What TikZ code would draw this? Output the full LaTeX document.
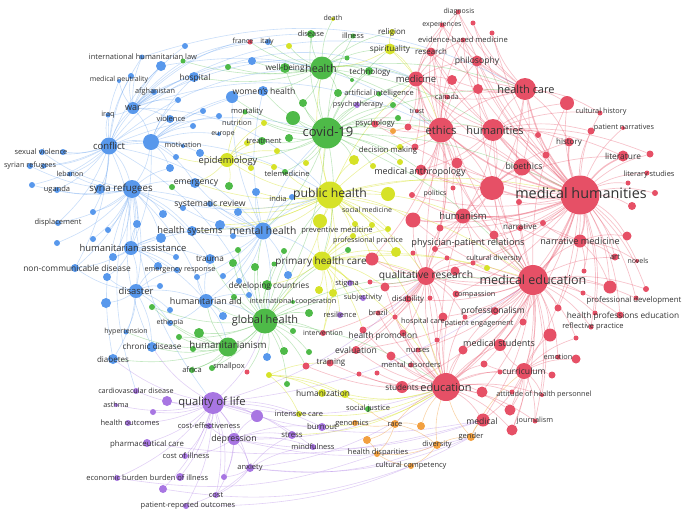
\documentclass[tikz,border=0pt]{standalone}
\usepackage{fontspec}
\setmainfont{Open Sans}
\pgfdeclarelayer{bg}
\pgfsetlayers{bg,main}
\definecolor{vred}{RGB}{230,80,102}
\definecolor{vgreen}{RGB}{78,186,72}
\definecolor{vblue}{RGB}{88,152,236}
\definecolor{vyellow}{RGB}{214,226,40}
\definecolor{vpurple}{RGB}{168,118,226}
\definecolor{vorange}{RGB}{242,160,64}
\definecolor{vtext}{RGB}{50,50,50}
\tikzset{
  kwdot/.style={circle,inner sep=0pt,draw=none},
  kwlbl/.style={inner sep=0pt,text=vtext},
  er/.style={draw=vred,draw opacity=0.34,line width=0.7pt},
  erh/.style={draw=vred,draw opacity=0.4,line width=1.4pt},
  eg/.style={draw=vgreen,draw opacity=0.34,line width=0.6pt},
  eb/.style={draw=vblue,draw opacity=0.32,line width=0.6pt},
  ey/.style={draw=vyellow,draw opacity=0.45,line width=0.6pt},
  ep/.style={draw=vpurple,draw opacity=0.34,line width=0.6pt},
  eo/.style={draw=vorange,draw opacity=0.45,line width=0.6pt},
}
\newcommand\kwn[5]{\node[kwdot,fill=#5,minimum size=#4pt] (#1) at (#2,#3) {};}
\newcommand\kwl[5]{\node[kwlbl,font=\fontsize{#4}{#4}\selectfont] (#1) at (#2,#3) {#5};}
\begin{document}
\begin{tikzpicture}[x=1pt,y=-1pt]
\useasboundingbox (0,0) rectangle (685,515);
% ---------- red nodes
\kwn{diag}{458}{12}{5}{vred}\kwn{exp}{442}{25}{5}{vred}\kwn{r473}{473}{23}{5}{vred}
\kwn{ebm}{463}{40}{5}{vred}\kwn{r492}{492}{33}{5}{vred}\kwn{res}{431}{52}{9}{vred}
\kwn{phil}{477}{61}{11}{vred}\kwn{med}{416}{79}{15}{vred}\kwn{r452}{452}{80}{10}{vred}
\kwn{r478}{478}{89}{10}{vred}\kwn{hc}{525}{89}{22}{vred}\kwn{r567}{567}{103}{14}{vred}
\kwn{can}{447}{97}{5}{vred}\kwn{trust}{417}{111}{4}{vred}\kwn{psych}{375}{124}{7}{vred}
\kwn{r408}{408}{127}{7}{vred}\kwn{eth}{441}{130}{25}{vred}\kwn{hum}{493}{130}{22}{vred}
\kwn{ch}{600}{113}{5}{vred}\kwn{pn}{591}{131}{7}{vred}\kwn{pn2}{623}{128}{4}{vred}
\kwn{r538}{538}{135}{6}{vred}\kwn{hist}{569}{142}{9}{vred}\kwn{r546}{546}{155}{7}{vred}
\kwn{lit}{623}{156}{11}{vred}\kwn{r650}{650}{154}{7}{vred}\kwn{bio}{522}{167}{17}{vred}
\kwn{dm}{415}{147}{7}{vred}\kwn{r457}{457}{163}{11}{vred}\kwn{ma}{421}{170}{11}{vred}
\kwn{ls}{647}{173}{5}{vred}\kwn{r628}{628}{183}{5}{vred}\kwn{rb}{492}{188}{24}{vred}
\kwn{mh}{580}{195}{39}{vred}\kwn{r655}{655}{193}{6}{vred}\kwn{r632}{632}{206}{8}{vred}
\kwn{r519}{519}{202}{6}{vred}\kwn{pol}{412}{195}{6}{vred}\kwn{r453}{453}{188}{5}{vred}
\kwn{r413}{413}{220}{15}{vred}\kwn{hism}{463}{216}{15}{vred}\kwn{r440}{440}{228}{7}{vred}
\kwn{r494}{494}{235}{9}{vred}\kwn{narr}{520}{228}{6}{vred}\kwn{r543}{543}{223}{6}{vred}
\kwn{nm}{580}{241}{13}{vred}\kwn{r627}{627}{236}{9}{vred}\kwn{art}{615}{257}{7}{vred}
\kwn{nov}{637}{261}{4}{vred}\kwn{ppr}{435}{249}{6}{vred}\kwn{r413b}{413}{253}{5}{vred}
\kwn{r447}{447}{258}{5}{vred}\kwn{r372}{372}{259}{13}{vred}\kwn{cd}{473}{263}{5}{vred}
\kwn{r455}{455}{271}{9}{vred}\kwn{qr}{426}{276}{18}{vred}\kwn{me}{533}{280}{30}{vred}
\kwn{r584}{584}{271}{5}{vred}\kwn{r610}{610}{287}{13}{vred}\kwn{r646}{646}{289}{6}{vred}
\kwn{r583}{583}{293}{5}{vred}\kwn{pd}{636}{298}{5}{vred}\kwn{r370}{370}{282}{5}{vred}
\kwn{r385}{385}{287}{9}{vred}\kwn{dis}{408}{299}{7}{vred}\kwn{r430}{430}{298}{5}{vred}
\kwn{comp}{456}{294}{7}{vred}\kwn{brz}{378}{313}{5}{vred}\kwn{r395}{395}{317}{5}{vred}
\kwn{hcare}{443}{317}{9}{vred}\kwn{pe}{465}{317}{5}{vred}\kwn{prof}{495}{311}{8}{vred}
\kwn{r558}{558}{308}{7}{vred}\kwn{hpe}{620}{315}{7}{vred}\kwn{r595}{595}{313}{5}{vred}
\kwn{rp}{591}{327}{5}{vred}\kwn{r523}{523}{322}{7}{vred}\kwn{r550}{550}{335}{13}{vred}
\kwn{r576}{576}{338}{5}{vred}\kwn{int}{323}{333}{6}{vred}\kwn{hp1}{363}{330}{7}{vred}
\kwn{hp2}{403}{333}{7}{vred}\kwn{r437}{437}{340}{5}{vred}\kwn{eval}{356}{350}{8}{vred}
\kwn{r391}{391}{356}{9}{vred}\kwn{nur}{418}{350}{5}{vred}\kwn{r463}{463}{350}{9}{vred}
\kwn{ms}{500}{345}{12}{vred}\kwn{md}{411}{365}{5}{vred}\kwn{r359}{359}{374}{5}{vred}
\kwn{r377}{377}{373}{5}{vred}\kwn{r484}{484}{364}{7}{vred}\kwn{r500}{500}{372}{5}{vred}
\kwn{emo}{558}{357}{5}{vred}\kwn{r576b}{576}{359}{9}{vred}\kwn{cur}{524}{371}{16}{vred}
\kwn{r552}{552}{375}{7}{vred}\kwn{stud}{402}{387}{12}{vred}\kwn{ed}{446}{387}{28}{vred}
\kwn{r482}{482}{392}{11}{vred}\kwn{att}{542}{395}{4}{vred}\kwn{r512}{512}{392}{5}{vred}
\kwn{r510}{510}{410}{11}{vred}\kwn{medl}{483}{420}{13}{vred}\kwn{jour}{535}{421}{5}{vred}
\kwn{r512b}{512}{430}{11}{vred}\kwn{tr}{330}{363}{7}{vred}\kwn{r306}{306}{366}{7}{vred}
\kwn{r247}{247}{372}{5}{vred}\kwn{fr}{250}{42}{5}{vred}
% ---------- green nodes
\kwn{dise}{311}{34}{8}{vgreen}\kwn{ill}{353}{36}{5}{vgreen}\kwn{g183}{183}{61}{5}{vgreen}
\kwn{g228}{228}{67}{6}{vgreen}\kwn{wb}{285}{68}{10}{vgreen}\kwn{health}{322}{68}{23}{vgreen}
\kwn{g347}{347}{58}{5}{vgreen}\kwn{tech}{369}{71}{8}{vgreen}\kwn{g352}{352}{80}{4}{vgreen}
\kwn{g338}{338}{93}{8}{vgreen}\kwn{ai}{379}{94}{5}{vgreen}\kwn{g303}{303}{103}{8}{vgreen}
\kwn{g393}{393}{105}{6}{vgreen}\kwn{mort}{245}{112}{5}{vgreen}\kwn{g398}{398}{118}{6}{vgreen}
\kwn{g293}{293}{118}{14}{vgreen}\kwn{treat}{262}{141}{8}{vgreen}\kwn{g289}{289}{138}{8}{vgreen}
\kwn{covid}{327}{133}{31}{vgreen}\kwn{tele}{285}{172}{6}{vgreen}\kwn{g172}{172}{187}{6}{vgreen}
\kwn{g229}{229}{186}{8}{vgreen}\kwn{g238}{238}{250}{6}{vgreen}\kwn{g284}{284}{251}{6}{vgreen}
\kwn{g348}{348}{250}{6}{vgreen}\kwn{g233}{233}{263}{8}{vgreen}\kwn{g255}{255}{267}{8}{vgreen}
\kwn{g274}{274}{264}{5}{vgreen}\kwn{dc}{267}{285}{10}{vgreen}\kwn{g234}{234}{297}{6}{vgreen}
\kwn{ic}{293}{302}{4}{vgreen}\kwn{g152}{152}{307}{6}{vgreen}\kwn{g309}{309}{313}{8}{vgreen}
\kwn{gh}{265}{321}{25}{vgreen}\kwn{g199}{199}{333}{10}{vgreen}\kwn{g179}{179}{337}{6}{vgreen}
\kwn{g293b}{293}{331}{6}{vgreen}\kwn{humn}{228}{347}{19}{vgreen}\kwn{g193}{193}{349}{6}{vgreen}
\kwn{g284b}{284}{351}{8}{vgreen}\kwn{g309b}{309}{352}{6}{vgreen}\kwn{afr}{192}{370}{6}{vgreen}
\kwn{smp}{212}{368}{6}{vgreen}\kwn{g287}{287}{384}{6}{vgreen}\kwn{sj}{368}{409}{6}{vgreen}
% ---------- yellow nodes
\kwn{death}{333}{19}{4}{vyellow}\kwn{g289y}{289}{46}{6}{vyellow}\kwn{rel}{392}{32}{6}{vyellow}
\kwn{spir}{390}{49}{11}{vyellow}\kwn{y264}{264}{123}{6}{vyellow}\kwn{y247}{247}{143}{6}{vyellow}
\kwn{y277}{277}{151}{6}{vyellow}\kwn{dm2}{400}{147}{6}{vyellow}\kwn{y354}{354}{160}{10}{vyellow}
\kwn{y400}{400}{162}{6}{vyellow}\kwn{y373}{373}{166}{6}{vyellow}\kwn{epi}{227}{160}{14}{vyellow}
\kwn{y251}{251}{168}{6}{vyellow}\kwn{y306}{306}{163}{6}{vyellow}\kwn{y274}{274}{167}{6}{vyellow}
\kwn{ph}{330}{195}{27}{vyellow}\kwn{y388}{388}{194}{14}{vyellow}\kwn{y320}{320}{221}{14}{vyellow}
\kwn{y355}{355}{224}{6}{vyellow}\kwn{y372}{372}{225}{6}{vyellow}\kwn{y388b}{388}{229}{6}{vyellow}
\kwn{y353}{353}{236}{6}{vyellow}\kwn{y396}{396}{252}{10}{vyellow}\kwn{y487}{487}{268}{6}{vyellow}
\kwn{pcare}{322}{261}{19}{vyellow}\kwn{y319}{319}{290}{8}{vyellow}\kwn{y333}{333}{293}{8}{vyellow}
\kwn{y269}{269}{375}{6}{vyellow}\kwn{humz}{322}{393}{8}{vyellow}\kwn{y345}{345}{394}{8}{vyellow}
\kwn{icu}{299}{414}{6}{vyellow}
% ---------- blue nodes
\kwn{ihl}{142}{57}{5}{vblue}\kwn{b161}{161}{66}{10}{vblue}\kwn{b131}{131}{76}{6}{vblue}
\kwn{mn}{119}{81}{4}{vblue}\kwn{b185}{185}{46}{6}{vblue}\kwn{it}{268}{42}{6}{vblue}
\kwn{b252}{252}{61}{8}{vblue}\kwn{hosp}{194}{77}{10}{vblue}\kwn{afg}{154}{92}{6}{vblue}
\kwn{wh}{263}{91}{10}{vblue}\kwn{b232}{232}{97}{12}{vblue}\kwn{b178}{178}{100}{6}{vblue}
\kwn{b203}{203}{111}{6}{vblue}\kwn{war}{133}{108}{12}{vblue}\kwn{iraq}{108}{115}{5}{vblue}
\kwn{b219}{219}{116}{6}{vblue}\kwn{viol}{170}{119}{8}{vblue}\kwn{b193}{193}{126}{6}{vblue}
\kwn{eur}{219}{134}{4}{vblue}\kwn{conf}{109}{146}{17}{vblue}\kwn{b151}{151}{142}{16}{vblue}
\kwn{mot}{183}{146}{4}{vblue}\kwn{sv}{42}{152}{6}{vblue}\kwn{sv2}{63}{152}{6}{vblue}
\kwn{sr}{30}{166}{6}{vblue}\kwn{sr2}{44}{166}{5}{vblue}\kwn{b200}{200}{153}{8}{vblue}
\kwn{b176}{176}{157}{6}{vblue}\kwn{b170}{170}{168}{8}{vblue}\kwn{leb}{70}{174}{5}{vblue}
\kwn{b32}{32}{185}{6}{vblue}\kwn{ug}{57}{190}{6}{vblue}\kwn{syr}{100}{189}{10}{vblue}
\kwn{ref}{132}{189}{18}{vblue}\kwn{emer}{195}{183}{10}{vblue}\kwn{b256}{256}{192}{8}{vblue}
\kwn{ind}{292}{197}{6}{vblue}\kwn{sysr}{210}{204}{6}{vblue}\kwn{b183}{183}{208}{6}{vblue}
\kwn{b93}{93}{212}{6}{vblue}\kwn{b163}{163}{214}{8}{vblue}\kwn{b238}{238}{212}{8}{vblue}
\kwn{disp}{58}{223}{6}{vblue}\kwn{b137}{137}{224}{8}{vblue}\kwn{b220}{220}{225}{10}{vblue}
\kwn{b108}{108}{230}{6}{vblue}\kwn{hsys}{192}{231}{10}{vblue}\kwn{b161b}{161}{238}{10}{vblue}
\kwn{mhl}{263}{231}{17}{vblue}\kwn{b233}{233}{236}{6}{vblue}\kwn{b57}{57}{243}{6}{vblue}
\kwn{b93b}{93}{239}{6}{vblue}\kwn{ha}{131}{248}{14}{vblue}\kwn{b176b}{176}{257}{6}{vblue}
\kwn{b113}{113}{257}{8}{vblue}\kwn{trau}{210}{259}{10}{vblue}\kwn{ncd}{75}{268}{8}{vblue}
\kwn{b158}{158}{266}{8}{vblue}\kwn{er}{177}{270}{6}{vblue}\kwn{b197}{197}{277}{6}{vblue}
\kwn{b223}{223}{276}{6}{vblue}\kwn{b107}{107}{277}{8}{vblue}\kwn{b288}{288}{275}{8}{vblue}
\kwn{b239}{239}{281}{6}{vblue}\kwn{b160}{160}{286}{6}{vblue}\kwn{disa}{136}{291}{14}{vblue}
\kwn{b249}{249}{295}{6}{vblue}\kwn{haid}{206}{301}{14}{vblue}\kwn{b106}{106}{303}{10}{vblue}
\kwn{b170b}{170}{310}{6}{vblue}\kwn{b223b}{223}{316}{8}{vblue}\kwn{ethp}{170}{323}{6}{vblue}
\kwn{hyp}{126}{332}{5}{vblue}\kwn{chd}{152}{347}{10}{vblue}\kwn{diab}{113}{359}{10}{vblue}
\kwn{b267}{267}{357}{8}{vblue}
% ---------- purple nodes
\kwn{psyt}{357}{105}{6}{vpurple}\kwn{stg}{350}{283}{6}{vpurple}\kwn{subj}{363}{298}{6}{vpurple}
\kwn{resil}{340}{315}{6}{vpurple}\kwn{cvd}{136}{391}{6}{vpurple}\kwn{p167}{167}{401}{10}{vpurple}
\kwn{qol}{213}{403}{22}{vpurple}\kwn{ast}{116}{405}{4}{vpurple}\kwn{p153}{153}{412}{6}{vpurple}
\kwn{p257}{257}{416}{12}{vpurple}\kwn{ce}{209}{426}{6}{vpurple}\kwn{hout}{128}{423}{6}{vpurple}
\kwn{bo}{322}{427}{8}{vpurple}\kwn{stress}{292}{435}{8}{vpurple}\kwn{dep}{234}{439}{12}{vpurple}
\kwn{pc}{147}{443}{8}{vpurple}\kwn{mind}{313}{447}{6}{vpurple}\kwn{coi}{185}{456}{6}{vpurple}
\kwn{anx}{250}{468}{8}{vpurple}\kwn{p224}{224}{477}{6}{vpurple}\kwn{eb}{117}{478}{6}{vpurple}
\kwn{boi}{180}{477}{8}{vpurple}\kwn{p163}{163}{489}{8}{vpurple}\kwn{cost}{216}{495}{6}{vpurple}
\kwn{pro}{186}{506}{6}{vpurple}
% ---------- orange nodes
\kwn{o393}{393}{131}{6}{vorange}\kwn{gen}{355}{423}{6}{vorange}\kwn{race}{395}{424}{8}{vorange}
\kwn{o421}{421}{426}{8}{vorange}\kwn{o367}{367}{440}{8}{vorange}\kwn{gend}{471}{437}{8}{vorange}
\kwn{div}{437}{445}{8}{vorange}\kwn{hdisp}{377}{454}{6}{vorange}\kwn{ccomp}{411}{466}{6}{vorange}
% ---------- edges
\begin{pgfonlayer}{bg}
\foreach \t in {hum,eth,hc,bio,me,rb,hism,nm,ed,lit,hist}\draw[erh] (mh) to[bend left=12] (\t);
\foreach \t in {pn,ch,ls,art,med,phil,res,narr,r567,pd,hpe,r655,r632,r627,r610,ppr,qr,cur,r646,r628,r650,r546,r538,r543,r519,r584,r457,pn2,nov,ma,r413,ms,prof,r558,rp,r595,ebm,diag,exp,r492,r473,comp,cd,r494,r440,psych,pol}\draw[er] (mh) to[bend left=12] (\t);
\foreach \t in {ed,qr,ms,cur,hpe,rp,nm,comp,pe,prof,r550,r558,r523,ppr,hism,cd,rb,eth,hum,med,r610,art,medl,stud,r583,r595,r576,emo,r455,r494,bio,hc,dis,hcare,r646,pd,r413,r372,r482,r510,r512b,att,jour,nur,eval,r463,r484,phil,res,r567}\draw[er] (me) to[bend left=12] (\t);
\foreach \t in {stud,medl,cur,ms,qr,nur,md,eval,r391,r463,r482,r510,r512b,r484,att,jour,hp2,hcare,r437,r500,r359,r377,tr,r306,dis,brz,prof,r512,hp1,r385,r395,pe,comp,eth,hism}\draw[er] (ed) to[bend left=12] (\t);
\foreach \t in {hum,med,hc,bio,res,phil,psych,trust,dm,ma,rb,r452,r478,exp,ebm,diag,can,hism,r408,r457,qr,pol,r413,r453,ppr,r440,r372}\draw[er] (eth) to[bend left=12] (\t);
\foreach \t in {hc,bio,hist,lit,phil,rb,r567,r538,r546,ma,med,ch,pn,hism,r457,r650,res,ebm}\draw[er] (hum) to[bend left=12] (\t);
\foreach \t in {med,phil,r567,rb,ebm,r492,r473,res,bio,r452,r478,diag,exp,can,hist,ch}\draw[er] (hc) to[bend left=12] (\t);
\foreach \t in {r413,r372,r385,dis,hcare,brz,r395,hism,ppr,r440,r447,r413b,r455,comp,cd,hp1,hp2,eval,int,r370,r430,pe,tr,r437}\draw[er] (qr) to[bend left=12] (\t);
\foreach \t in {res,r452,psych,r408,dm,ma,phil,exp,diag,trust,can,ebm}\draw[er] (med) to[bend left=12] (\t);
\foreach \t in {ppr,r440,r494,narr,rb,bio,nm,r413,pol,r453,cd}\draw[er] (hism) to[bend left=12] (\t);
\foreach \t in {ms,r550,emo,r576b,r552,att,r512,r510,medl,r484,r500,r576,jour,r512b}\draw[er] (cur) to[bend left=12] (\t);
\foreach \t in {narr,art,r627,r584,nov,r610,r543}\draw[er] (nm) to[bend left=12] (\t);
\foreach \t in {bio,hism,ma,r457,r494,ppr,hist,lit}\draw[er] (rb) to[bend left=12] (\t);
\foreach \t in {covid,health,eth,me,qr,gh,pcare,mhl,epi,y320,y388,y354,r413,rb,hism,med,tele,ind,b256,mh,y355,y372,y388b,y353,int,emer,hsys,sysr,b238,b220,ed,y396,r372}\draw[ey] (ph) to[bend left=12] (\t);
\foreach \t in {health,eth,mhl,tele,g293,g289,treat,g303,g338,psych,ai,tech,g398,ma,dm2,y354,epi,wb,dise,ill,spir,med,mort,y264,y277,y306,hum,me,gh,pcare,g393,psyt,o393,y373,y400,wh,b232,hc,mh}\draw[eg] (covid) to[bend left=12] (\t);
\foreach \t in {wb,dise,ill,death,g228,g183,g347,tech,g352,g338,g303,rel,spir,med,hc,b252,it,wh,g289y,fr,eth,hosp,hum}\draw[eg] (health) to[bend left=12] (\t);
\foreach \t in {dc,ic,humn,g199,g179,g293b,g309,g234,g233,g255,g274,haid,mhl,pcare,ph,g284b,g309b,afr,smp,g152,trau,int,qr,me,g238,g284,g348,g287,b267,r247,r306,ed}\draw[eg] (gh) to[bend left=12] (\t);
\foreach \t in {afr,smp,g193,g199,g179,haid,chd,diab,g152,ethp,hyp}\draw[eg] (humn) to[bend left=12] (\t);
\foreach \t in {y319,y333,y396,y320,stg,subj,resil,dc,qr,me,y487,int,y355,y372,y353,y388b,r385,ed,hp1}\draw[ey] (pcare) to[bend left=12] (\t);
\foreach \t in {y247,y251,y264,y277,treat,mort,emer,b200,y274,g229,b176}\draw[ey] (epi) to[bend left=12] (\t);
\foreach \t in {rel,med,eth,health,res}\draw[ey] (spir) to[bend left=12] (\t);
\foreach \t in {humz,y345,icu,sj,tr}\draw[ey] (y269) to[bend left=12] (\t);
\foreach \t in {humz,y345,icu,bo,stress}\draw[ey] (ed) to[bend left=14] (\t);
\foreach \t in {war,iraq,viol,b151,sv,sv2,sr,sr2,syr,ref,leb,b32,ug,afg,mn,ihl,b161,b131,hosp,disp,ha,b93,ncd,mot}\draw[eb] (conf) to[bend left=12] (\t);
\foreach \t in {syr,ug,leb,ha,mhl,b137,b108,b93,b163,hsys,b161b,emer,disp,b57,b93b,b113,b170,trau,haid,sr,sv,b32,disa,ncd}\draw[eb] (ref) to[bend left=12] (\t);
\foreach \t in {ihl,mn,afg,iraq,viol,b161,b131,b151,hosp,b178,b185}\draw[eb] (war) to[bend left=12] (\t);
\foreach \t in {viol,hosp,wh,b232,b178,b203,b219,b193,eur,b200,b176,b170,emer,ref,ha,mot}\draw[eb] (b151) to[bend left=12] (\t);
\foreach \t in {disa,haid,hsys,b161b,ncd,b107,b113,er,b158,trau,b137,mhl,b176b}\draw[eb] (ha) to[bend left=12] (\t);
\foreach \t in {trau,hsys,b220,b233,b238,b256,ind,b288,b239,b223,b197,haid,sysr,b183,emer,wh,b232,covid,ph,gh,pcare}\draw[eb] (mhl) to[bend left=12] (\t);
\foreach \t in {b106,b160,hyp,chd,diab,ncd,ethp,b170b,haid,b107,b158,er}\draw[eb] (disa) to[bend left=12] (\t);
\foreach \t in {b223b,b249,ethp,b197,humn,gh,trau}\draw[eb] (haid) to[bend left=12] (\t);
\foreach \t in {med,res,eth,health,dise,ph,it,fr}\draw[eb] (war) to[bend left=22] (\t);
\foreach \t in {ph,covid,health,mhl,gh}\draw[eb] (conf) to[bend left=18] (\t);
\foreach \t in {ph,qol,chd,diab,cvd}\draw[eb] (ref) to[bend right=16] (\t);
\draw[eb] (ihl) to[bend left=22] (hc);
\draw[eb] (b161) to[bend left=22] (eth);
\draw[eb] (hosp) to[bend left=22] (med);
\foreach \t in {dep,anx,cvd,hout,pc,coi,eb,boi,cost,pro,ce,p257,p167,p153,stress,bo,diab,chd,ast,p224,p163,mind,icu}\draw[ep] (qol) to[bend left=12] (\t);
\foreach \t in {anx,stress,mind,bo,p257,ce,coi,cost,p224}\draw[ep] (dep) to[bend left=12] (\t);
\foreach \t in {stress,mind,p224,cost,pro}\draw[ep] (anx) to[bend left=12] (\t);
\foreach \t in {me,ed,medl,qr,gh}\draw[ep] (qol) to[bend right=14] (\t);
\foreach \t in {ed,medl,gend}\draw[ep] (dep) to[bend right=14] (\t);
\foreach \t in {ed,gend,div}\draw[ep] (anx) to[bend right=14] (\t);
\draw[ep] (pro) to[bend right=14] (gend);
\draw[ep] (eb) to[bend right=14] (hdisp);
\draw[ep] (p163) to[bend right=14] (ccomp);
\draw[ep] (pc) to[bend right=12] (medl);
\foreach \t in {gen,o421,div,hdisp,ed,o367,sj}\draw[eo] (race) to[bend left=12] (\t);
\foreach \t in {ccomp,gend,ed,hdisp}\draw[eo] (div) to[bend left=12] (\t);
\foreach \t in {medl,ed,cur}\draw[eo] (gend) to[bend left=12] (\t);
\draw[eo] (o421) to[bend left=12] (ed);
\draw[eo] (o367) to[bend left=12] (hdisp);
\draw[eo] (ccomp) to[bend left=12] (hdisp);
\draw[eo] (o393) to[bend left=12] (eth);
\end{pgfonlayer}
% ---------- labels
\kwl{l-diag}{459}{12}{7}{diagnosis}
\kwl{l-exp}{442}{25}{7}{experiences}
\kwl{l-ebm}{463}{40}{7.6}{evidence-based medicine}
\kwl{l-res}{431}{52}{7.9}{research}
\kwl{l-phil}{477}{61}{8.6}{philosophy}
\kwl{l-med}{416}{79}{9.5}{medicine}
\kwl{l-hc}{526}{89}{11}{health care}
\kwl{l-can}{447}{97}{7}{canada}
\kwl{l-trust}{417}{111}{6.6}{trust}
\kwl{l-psych}{375}{124}{7.6}{psychology}
\kwl{l-eth}{441}{130}{11.3}{ethics}
\kwl{l-hum}{495}{130}{11}{humanities}
\kwl{l-ch}{601}{112}{7.3}{cultural history}
\kwl{l-pn}{624}{128}{7.3}{patient narratives}
\kwl{l-hist}{569}{142}{8}{history}
\kwl{l-lit}{623}{156}{8.4}{literature}
\kwl{l-bio}{524}{166}{8.8}{bioethics}
\kwl{l-ls}{649}{175}{7.4}{literary studies}
\kwl{l-mh}{581}{193}{14.4}{medical humanities}
\kwl{l-dm}{388}{150}{7.7}{decision making}
\kwl{l-ma}{420}{172}{9}{medical anthropology}
\kwl{l-pol}{435}{194}{7}{politics}
\kwl{l-sm}{367}{210}{7}{social medicine}
\kwl{l-hism}{463}{216}{9.5}{humanism}
\kwl{l-narr}{520}{227}{8}{narrative}
\kwl{l-pm}{337}{231}{7.6}{preventive medicine}
\kwl{l-pp}{368}{241}{7.2}{professional practice}
\kwl{l-ppr}{468}{243}{9.2}{physician-patient relations}
\kwl{l-nm}{580}{241}{9.1}{narrative medicine}
\kwl{l-cd}{494}{259}{7.2}{cultural diversity}
\kwl{l-art}{615}{257}{7.5}{art}
\kwl{l-nov}{638}{261}{7}{novels}
\kwl{l-qr}{426}{276}{10.3}{qualitative research}
\kwl{l-me}{533}{280}{12.5}{medical education}
\kwl{l-pd}{634}{300}{7.8}{professional development}
\kwl{l-stg}{347}{284}{7.5}{stigma}
\kwl{l-subj}{363}{298}{7.3}{subjectivity}
\kwl{l-dis}{408}{299}{7.8}{disability}
\kwl{l-comp}{475}{295}{7.3}{compassion}
\kwl{l-prof}{493}{311}{8.6}{professionalism}
\kwl{l-hpe}{623}{316}{8.3}{health professions education}
\kwl{l-brz}{378}{313}{7.5}{brazil}
\kwl{l-resil}{340}{315}{7.5}{resilience}
\kwl{l-hcare}{423}{322}{7.3}{hospital care}
\kwl{l-pe}{479}{324}{7.3}{patient engagement}
\kwl{l-rp}{593}{327}{7.5}{reflective practice}
\kwl{l-int}{323}{333}{7}{intervention}
\kwl{l-hp}{383}{336}{8.4}{health promotion}
\kwl{l-ms}{499}{343}{9}{medical students}
\kwl{l-eval}{356}{350}{8.6}{evaluation}
\kwl{l-nur}{418}{350}{7.5}{nurses}
\kwl{l-md}{411}{365}{7.5}{mental disorders}
\kwl{l-emo}{558}{357}{7.3}{emotion}
\kwl{l-cur}{524}{371}{8.6}{curriculum}
\kwl{l-stud}{402}{387}{8.2}{students}
\kwl{l-ed}{446}{387}{11}{education}
\kwl{l-att}{544}{395}{7.3}{attitude of health personnel}
\kwl{l-medl}{482}{421}{8.6}{medical}
\kwl{l-jour}{535}{421}{7.3}{journalism}
\kwl{l-tr}{331}{363}{8}{training}
\kwl{l-fr}{243}{41}{7}{france}
\kwl{l-it}{267}{42}{7}{italy}
\kwl{l-death}{333}{18}{7}{death}
\kwl{l-dise}{311}{34}{7.5}{disease}
\kwl{l-ill}{353}{36}{7.5}{illness}
\kwl{l-wb}{285}{68}{8.2}{well-being}
\kwl{l-health}{321}{68}{10.7}{health}
\kwl{l-rel}{392}{32}{8}{religion}
\kwl{l-spir}{390}{49}{8.2}{spirituality}
\kwl{l-tech}{370}{72}{8}{technology}
\kwl{l-ai}{379}{94}{7.5}{artificial intelligence}
\kwl{l-psyt}{358}{105}{7.3}{psychotherapy}
\kwl{l-mort}{247}{112}{7.5}{mortality}
\kwl{l-nut}{237}{123}{7.3}{nutrition}
\kwl{l-eur}{223}{134}{7}{europe}
\kwl{l-treat}{264}{141}{7.5}{treatment}
\kwl{l-covid}{328}{132}{13}{covid-19}
\kwl{l-epi}{228}{161}{9.3}{epidemiology}
\kwl{l-tele}{287}{174}{7.5}{telemedicine}
\kwl{l-ph}{330}{194}{12.2}{public health}
\kwl{l-pcare}{321}{262}{10}{primary health care}
\kwl{l-dc}{269}{286}{8.3}{developing countries}
\kwl{l-ic}{293}{302}{7.3}{international cooperation}
\kwl{l-gh}{265}{321}{11}{global health}
\kwl{l-humn}{228}{345}{9.7}{humanitarianism}
\kwl{l-afr}{192}{370}{7.5}{africa}
\kwl{l-smp}{229}{367}{7.5}{smallpox}
\kwl{l-humz}{323}{393}{8.4}{humanization}
\kwl{l-icu}{299}{414}{7.5}{intensive care}
\kwl{l-sj}{368}{409}{7.5}{social justice}
\kwl{l-gen}{352}{424}{7.5}{genomics}
\kwl{l-race}{395}{424}{7.5}{race}
\kwl{l-gend}{471}{437}{7.5}{gender}
\kwl{l-div}{437}{445}{7.5}{diversity}
\kwl{l-hdisp}{378}{453}{7.5}{health disparities}
\kwl{l-ccomp}{411}{466}{7.5}{cultural competency}
\kwl{l-ihl}{143}{57}{7.5}{international humanitarian law}
\kwl{l-hosp}{195}{78}{8.3}{hospital}
\kwl{l-mn}{119}{80}{7}{medical neutrality}
\kwl{l-afg}{155}{92}{7.3}{afghanistan}
\kwl{l-wh}{264}{91}{8.6}{women's health}
\kwl{l-war}{133}{108}{9}{war}
\kwl{l-iraq}{108}{115}{7.3}{iraq}
\kwl{l-viol}{171}{119}{7.5}{violence}
\kwl{l-conf}{109}{146}{9.5}{conflict}
\kwl{l-mot}{183}{145}{7.3}{motivation}
\kwl{l-sv}{41}{152}{7.5}{sexual violence}
\kwl{l-sr}{30}{166}{7.3}{syrian refugees}
\kwl{l-leb}{70}{174}{7}{lebanon}
\kwl{l-ug}{57}{190}{7.5}{uganda}
\kwl{l-syr}{100}{189}{9.7}{syria}
\kwl{l-ref}{133}{189}{9.7}{refugees}
\kwl{l-emer}{196}{183}{8.6}{emergency}
\kwl{l-ind}{278}{199}{7.5}{india}
\kwl{l-sysr}{210}{204}{8.7}{systematic review}
\kwl{l-disp}{58}{223}{7.5}{displacement}
\kwl{l-hsys}{190}{231}{9.3}{health systems}
\kwl{l-mhl}{263}{231}{10.3}{mental health}
\kwl{l-ha}{133}{248}{9.4}{humanitarian assistance}
\kwl{l-trau}{210}{259}{8.2}{trauma}
\kwl{l-ncd}{77}{268}{8.4}{non-communicable disease}
\kwl{l-er}{180}{270}{7.3}{emergency response}
\kwl{l-disa}{136}{291}{9.4}{disaster}
\kwl{l-haid}{206}{301}{9}{humanitarian aid}
\kwl{l-ethp}{170}{323}{7}{ethiopia}
\kwl{l-hyp}{126}{332}{7}{hypertension}
\kwl{l-chd}{152}{346}{8.2}{chronic disease}
\kwl{l-diab}{113}{359}{8}{diabetes}
\kwl{l-cvd}{136}{391}{7.2}{cardiovascular disease}
\kwl{l-ast}{116}{405}{7.3}{asthma}
\kwl{l-hout}{130}{423}{7.5}{health outcomes}
\kwl{l-qol}{212}{403}{11.2}{quality of life}
\kwl{l-ce}{209}{426}{7.5}{cost-effectiveness}
\kwl{l-bo}{322}{427}{7.8}{burnout}
\kwl{l-dep}{234}{439}{8.8}{depression}
\kwl{l-stress}{292}{435}{7.8}{stress}
\kwl{l-mind}{313}{447}{7.5}{mindfulness}
\kwl{l-pc}{147}{444}{7.8}{pharmaceutical care}
\kwl{l-coi}{186}{456}{7.5}{cost of illness}
\kwl{l-anx}{250}{468}{7.5}{anxiety}
\kwl{l-eb}{117}{478}{7.5}{economic burden}
\kwl{l-boi}{179}{478}{7.5}{burden of illness}
\kwl{l-cost}{216}{495}{7.5}{cost}
\kwl{l-pro}{188}{506}{7.5}{patient-reported outcomes}
\end{tikzpicture}
\end{document}
